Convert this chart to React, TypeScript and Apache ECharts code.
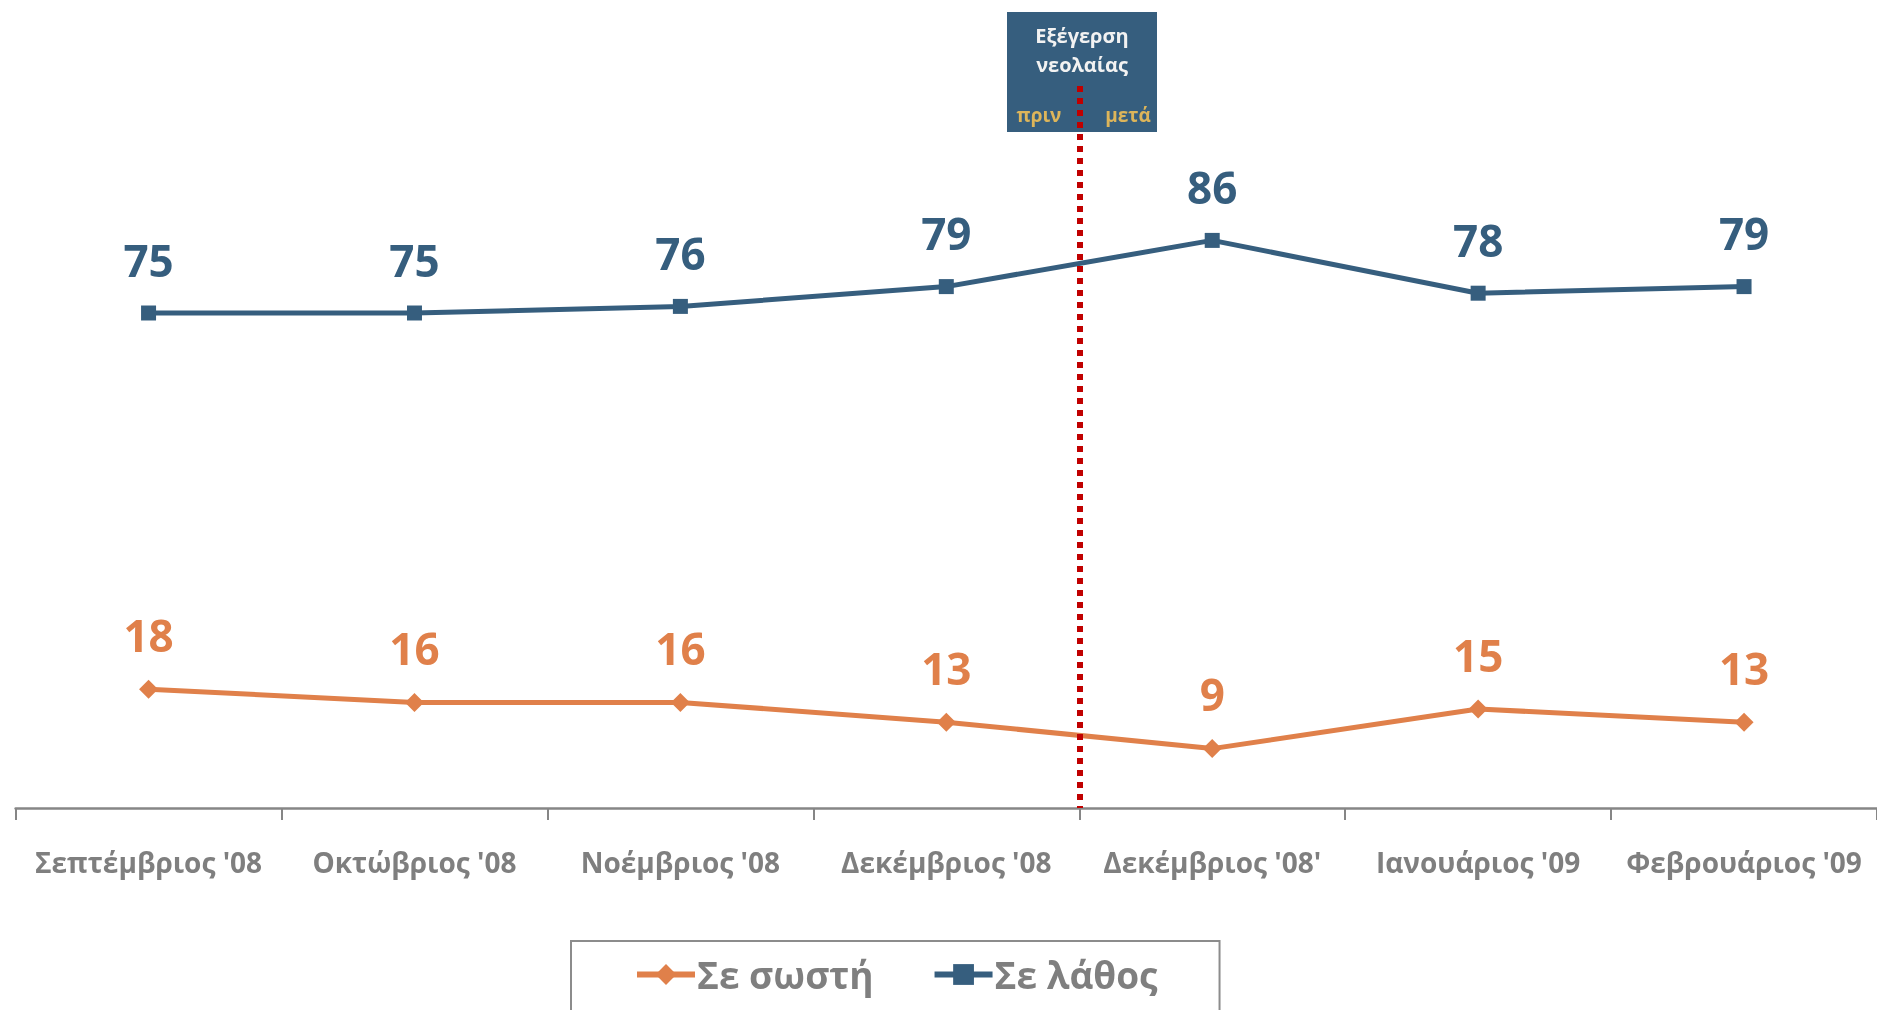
import React, { useEffect, useRef } from "react";
import * as echarts from "echarts";

const categories = [
  "Σεπτέμβριος '08",
  "Οκτώβριος '08",
  "Νοέμβριος '08",
  "Δεκέμβριος '08",
  "Δεκέμβριος '08'",
  "Ιανουάριος '09",
  "Φεβρουάριος '09",
];
const wrongValues = [75, 75, 76, 79, 86, 78, 79];
const rightValues = [18, 16, 16, 13, 9, 15, 13];
const seriesNames = ["Σε σωστή", "Σε λάθος"];
const eventPosition = [4];

const BLUE = "#365E7E";
const ORANGE = "#E0804A";
const GRAY = "#7F7F7F";
const FONT = "'Open Sans', 'Noto Sans', sans-serif";

export default function App() {
  const ref = useRef<HTMLDivElement>(null);
  useEffect(() => {
    if (!ref.current) return;
    const chart = echarts.init(ref.current, null, { renderer: "svg" });
    chart.setOption({
      animation: false,
      textStyle: { fontFamily: FONT },
      grid: { left: 15.6, right: 0, top: 82, bottom: 202, containLabel: false },
      xAxis: [
        {
          type: "category",
          data: categories,
          boundaryGap: true,
          axisLine: { lineStyle: { color: "#868686", width: 2.5 } },
          axisTick: { show: true, length: 12, lineStyle: { color: "#868686", width: 2 } },
          axisLabel: {
            color: GRAY,
            fontSize: 28,
            fontWeight: "bold",
            fontFamily: FONT,
            margin: 40,
            interval: 0,
          },
        },
        { type: "value", min: 0, max: 7, show: false },
      ],
      yAxis: {
        type: "value",
        min: 0,
        max: 110,
        show: false,
        splitLine: { show: false },
      },
      legend: {
        data: seriesNames,
        left: 571,
        top: 941,
        padding: [15, 62, 60, 63],
        itemGap: 58,
        itemWidth: 58,
        itemHeight: 26,
        lineStyle: { width: 6 },
        borderColor: "#8C8C8C",
        borderWidth: 2,
        textStyle: { color: GRAY, fontSize: 37, fontWeight: "bold", fontFamily: FONT, padding: [0, 0, 0, -3] },
      },
      graphic: [
        {
          type: "rect",
          shape: { x: 1007, y: 12, width: 150, height: 120 },
          style: { fill: BLUE },
          z: 0,
        },
        {
          type: "text",
          x: 1082,
          y: 50,
          style: {
            text: "Εξέγερση\nνεολαίας",
            fill: "#F2F2F2",
            font: `bold 20px ${FONT}`,
            lineHeight: 29,
            align: "center",
            verticalAlign: "middle",
          },
          z: 1,
        },
        {
          type: "text",
          x: 1039,
          y: 115,
          style: {
            text: "πριν",
            fill: "#DDB55A",
            font: `bold 19px ${FONT}`,
            align: "center",
            verticalAlign: "middle",
          },
          z: 1,
        },
        {
          type: "text",
          x: 1128,
          y: 115,
          style: {
            text: "μετά",
            fill: "#DDB55A",
            font: `bold 19px ${FONT}`,
            align: "center",
            verticalAlign: "middle",
          },
          z: 1,
        },
      ],
      series: [
        {
          name: seriesNames[0],
          type: "line",
          data: rightValues,
          symbol: "diamond",
          symbolSize: 19,
          lineStyle: { color: ORANGE, width: 5 },
          itemStyle: { color: ORANGE },
          label: {
            show: true,
            position: "top",
            distance: 23,
            color: ORANGE,
            fontSize: 44,
            fontWeight: "bold",
            fontFamily: FONT,
          },
        },
        {
          name: seriesNames[1],
          type: "line",
          data: wrongValues,
          symbol: "rect",
          symbolSize: 15,
          lineStyle: { color: BLUE, width: 5 },
          itemStyle: { color: BLUE },
          label: {
            show: true,
            position: "top",
            distance: 24,
            color: BLUE,
            fontSize: 44,
            fontWeight: "bold",
            fontFamily: FONT,
          },
        },
        {
          name: "event",
          type: "line",
          xAxisIndex: 1,
          data: [],
          z: 5,
          markLine: {
            silent: true,
            symbol: "none",
            label: { show: false },
            lineStyle: { color: "#C00000", width: 6, type: [6, 6], cap: "butt" },
            data: eventPosition.map((p) => [{ coord: [p, 109.4] }, { coord: [p, 0] }]),
          },
        },
      ],
    });
    return () => chart.dispose();
  }, []);
  return (
    <div
      ref={ref}
      style={{ position: "fixed", left: 0, top: 0, width: 1877, height: 1010 }}
    />
  );
}
